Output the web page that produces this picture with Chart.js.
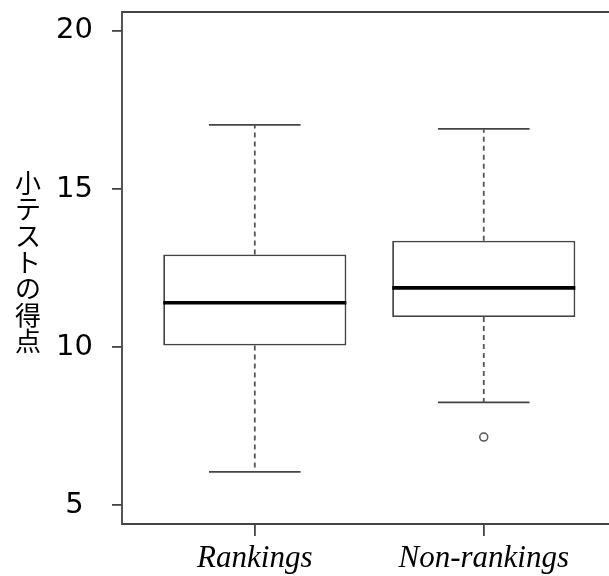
<!DOCTYPE html>
<html>
<head>
<meta charset="utf-8">
<script src="https://cdn.jsdelivr.net/npm/chart.js@4"></script>
<style>
  html, body { margin: 0; padding: 0; background: #fff; }
</style>
</head>
<body>
<canvas id="chartCanvas" width="609" height="576"></canvas>
<script>
// box plot values
const groups = ['Rankings', 'Non-rankings'];
const whiskerLow = [6.05, 8.25];
const boxLow = [10.05, 10.95];
const medians = [11.4, 11.87];
const boxHigh = [12.93, 13.36];
const whiskerHigh = [17.03, 16.9];
const outliers = [[], [7.15]];
const yTicks = [5, 10, 15, 20];
const yTitle = '小テストの得点';

const lineColor = '#444';
const boxWidth = 0.8;     // R boxwex
const stapleHalf = 0.2;   // half width of whisker caps

const segment = (x1, y1, x2, y2, extra) => Object.assign({
  type: 'line',
  data: [{ x: x1, y: y1 }, { x: x2, y: y2 }],
  borderColor: lineColor,
  borderWidth: 1.8,
  pointRadius: 0,
  fill: false,
  order: 0
}, extra || {});

const datasets = [{
  type: 'bar',
  data: groups.map((g, i) => ({ x: i + 1, y: [boxLow[i], boxHigh[i]] })),
  backgroundColor: '#fff',
  borderColor: lineColor,
  borderWidth: 1.8,
  borderSkipped: false,
  barPercentage: boxWidth,
  categoryPercentage: 1,
  order: 1
}];

groups.forEach((g, i) => {
  const x = i + 1;
  const dashed = { borderDash: [5, 4], borderColor: '#555' };
  datasets.push(segment(x, boxHigh[i], x, whiskerHigh[i], dashed));
  datasets.push(segment(x, boxLow[i], x, whiskerLow[i], dashed));
  datasets.push(segment(x - stapleHalf, whiskerHigh[i], x + stapleHalf, whiskerHigh[i]));
  datasets.push(segment(x - stapleHalf, whiskerLow[i], x + stapleHalf, whiskerLow[i]));
  datasets.push(segment(x - boxWidth / 2, medians[i], x + boxWidth / 2, medians[i], { borderColor: '#000', borderWidth: 3.6 }));
});

datasets.push({
  type: 'scatter',
  data: outliers.flatMap((vals, i) => vals.map(v => ({ x: i + 1, y: v }))),
  pointRadius: 4,
  pointHoverRadius: 4,
  pointBackgroundColor: '#fff',
  pointBorderColor: '#555',
  pointBorderWidth: 1.5,
  showLine: false,
  order: 0
});

// frame on left, top and bottom (the right side is cut off in the original)
const framePlugin = {
  id: 'frame',
  afterDatasetsDraw(chart) {
    const { ctx, chartArea: a } = chart;
    ctx.save();
    ctx.strokeStyle = '#444';
    ctx.lineWidth = 1.8;
    ctx.beginPath();
    ctx.moveTo(a.right + 2, a.top);
    ctx.lineTo(a.left, a.top);
    ctx.lineTo(a.left, a.bottom);
    ctx.lineTo(a.right + 2, a.bottom);
    ctx.stroke();
    ctx.restore();
  }
};

// upright, stacked y-axis title
const yTitlePlugin = {
  id: 'yTitle',
  afterDraw(chart) {
    const { ctx } = chart;
    ctx.save();
    ctx.fillStyle = '#000';
    ctx.font = '26px "Noto Sans CJK JP"';
    ctx.textAlign = 'center';
    ctx.textBaseline = 'middle';
    Array.from(yTitle).forEach((ch, k) => {
      ctx.fillText(ch, 28, 183 + k * 26.4);
    });
    ctx.restore();
  }
};

const noPadding = scale => {
  scale.paddingTop = 0;
  scale.paddingBottom = 0;
  scale.paddingLeft = 0;
  scale.paddingRight = 0;
};

const ctx = document.getElementById('chartCanvas').getContext('2d');
new Chart(ctx, {
  type: 'bar',
  data: { datasets },
  plugins: [framePlugin, yTitlePlugin],
  options: {
    responsive: false,
    animation: false,
    layout: { autoPadding: false, padding: { top: 12, right: 0, left: 0, bottom: 0 } },
    plugins: {
      legend: { display: false },
      tooltip: { enabled: false }
    },
    scales: {
      x: {
        type: 'linear',
        min: 0.42,
        max: 2.547,
        offset: false,
        afterBuildTicks: scale => { scale.ticks = groups.map((g, i) => ({ value: i + 1 })); },
        afterFit: scale => { scale.height = 52; noPadding(scale); },
        ticks: {
          callback: value => groups[value - 1],
          font: { family: 'Liberation Serif', style: 'italic', size: 31 },
          color: '#000',
          padding: 4,
          maxRotation: 0,
          autoSkip: false
        },
        grid: { drawOnChartArea: false, offset: false, tickLength: 12, color: '#444', lineWidth: 1.8 },
        border: { display: false }
      },
      y: {
        type: 'linear',
        min: 4.4,
        max: 20.6,
        afterBuildTicks: scale => { scale.ticks = yTicks.map(v => ({ value: v })); },
        afterFit: scale => { scale.width = 122; noPadding(scale); },
        ticks: {
          font: { family: 'DejaVu Sans', size: 29 },
          color: '#000',
          padding: 19,
          crossAlign: 'center'
        },
        grid: { drawOnChartArea: false, tickLength: 10, color: '#444', lineWidth: 1.8 },
        border: { display: false }
      }
    }
  }
});
</script>
</body>
</html>
